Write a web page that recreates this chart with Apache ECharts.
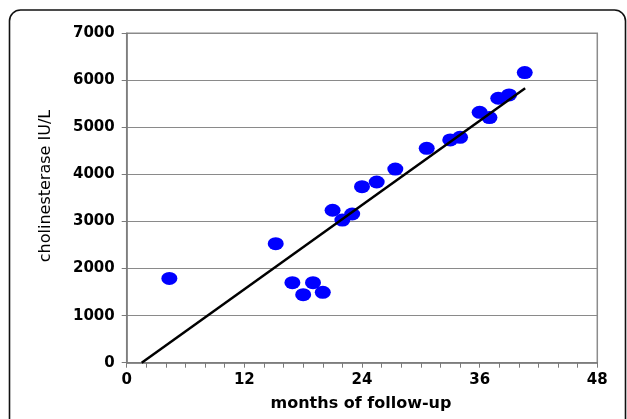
<!DOCTYPE html>
<html>
<head>
<meta charset="utf-8">
<script src="https://cdn.jsdelivr.net/npm/echarts@6/dist/echarts.min.js"></script>
<style>
html,body{margin:0;padding:0;background:#fff;}
#chart{width:627px;height:419px;}
</style>
</head>
<body>
<div id="chart"></div>
<script>
// Data
const months = [4.35, 15.2, 16.9, 18.0, 19.0, 20.0, 21.0, 22.0, 23.0, 24.0, 25.5, 27.4, 30.6, 33.0, 34.0, 36.0, 37.0, 37.9, 39.0, 40.6];
const cholinesterase = [1790, 2530, 1700, 1445, 1700, 1495, 3240, 3030, 3160, 3740, 3840, 4115, 4555, 4735, 4790, 5320, 5210, 5620, 5690, 6165];
const trendMonths = [1.53, 40.64];
const trendValues = [0, 5830];
const xTicks = [0, 12, 24, 36, 48];
const yTicks = [0, 1000, 2000, 3000, 4000, 5000, 6000, 7000];
const xTitle = 'months of follow-up';
const yTitle = 'cholinesterase IU/L';

const chart = echarts.init(document.getElementById('chart'), null, {renderer: 'canvas'});
const tickFont = {fontFamily: 'DejaVu Sans', fontWeight: 'bold', fontSize: 15, color: '#000'};

chart.setOption({
  animation: false,
  backgroundColor: '#fff',
  grid: {
    left: 126.7, right: 29.7, top: 33.3, bottom: 56.3,
    show: true, borderColor: '#8c8c8c', borderWidth: 1.5, backgroundColor: 'transparent'
  },
  xAxis: {
    type: 'value',
    min: xTicks[0], max: xTicks[xTicks.length - 1], interval: 12,
    axisLine: {show: true, onZero: false, lineStyle: {color: '#7a7a7a', width: 1.5}},
    axisTick: {show: true, inside: false, length: 5, lineStyle: {color: '#7a7a7a', width: 1}},
    minorTick: {show: true, splitNumber: 6, length: 5, lineStyle: {color: '#7a7a7a', width: 1}},
    splitLine: {show: false},
    axisLabel: Object.assign({margin: 10, formatter: v => String(v)}, tickFont)
  },
  yAxis: {
    type: 'value',
    min: yTicks[0], max: yTicks[yTicks.length - 1], interval: 1000,
    axisLine: {show: true, lineStyle: {color: '#7a7a7a', width: 1.5}},
    axisTick: {show: true, inside: false, length: 5, lineStyle: {color: '#7a7a7a', width: 1}},
    splitLine: {show: true, lineStyle: {color: '#8a8a8a', width: 1}},
    axisLabel: Object.assign({margin: 12, formatter: v => String(v)}, tickFont)
  },
  graphic: [
    {
      type: 'rect', silent: true, z: 100,
      shape: {x: 9.5, y: 10, width: 616, height: 520, r: 11},
      style: {fill: 'none', stroke: '#111', lineWidth: 1.6}
    },
    {
      type: 'text', silent: true, z: 100,
      x: 361, y: 404,
      style: {text: xTitle, font: 'bold 16px "DejaVu Sans"', fill: '#000', align: 'center', verticalAlign: 'middle'}
    },
    {
      type: 'text', silent: true, z: 100,
      x: 46, y: 186, rotation: Math.PI / 2,
      style: {text: yTitle, font: '16px "DejaVu Sans"', fill: '#000', align: 'center', verticalAlign: 'middle'}
    }
  ],
  series: [
    {
      type: 'scatter',
      data: months.map((m, i) => [m, cholinesterase[i]]),
      symbol: 'circle',
      symbolSize: [16, 13],
      itemStyle: {color: '#0000ff', opacity: 1},
      z: 2
    },
    {
      type: 'line',
      data: trendMonths.map((m, i) => [m, trendValues[i]]),
      showSymbol: false,
      symbol: 'none',
      lineStyle: {color: '#000', width: 2.5},
      z: 3
    }
  ]
});
</script>
</body>
</html>
